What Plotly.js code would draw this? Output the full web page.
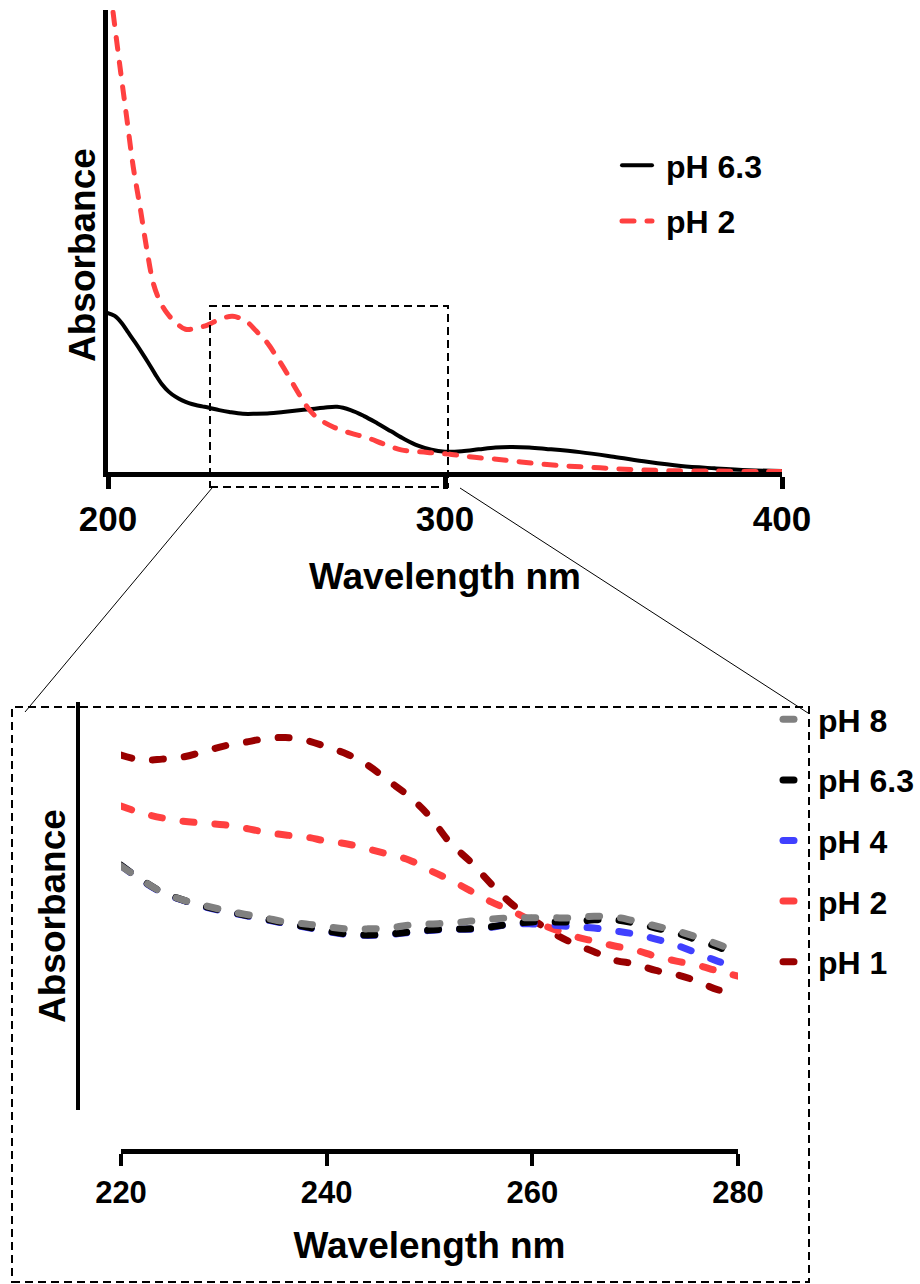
<!DOCTYPE html>
<html><head><meta charset="utf-8">
<script src="https://cdn.plot.ly/plotly-3.0.1.min.js"></script>
<style>
html,body{margin:0;padding:0;background:#fff;}
#chart{width:920px;height:1284px;}
.js-line{stroke-linecap:round;}
</style></head><body><div id="chart"></div>
<script>
// ---- Top panel data ----
const topWl63 = [200,202,204,206,208,210,212,214,216,218,220,222,224,226,228,230,233,236,240,244,248,252,256,260,264,268,272,276,280,284,288,292,296,300,305,310,315,320,325,330,340,350,360,370,380,390,400];
const topAbs63 = [0.344,0.338,0.323,0.302,0.281,0.259,0.236,0.212,0.190,0.174,0.163,0.155,0.149,0.145,0.142,0.139,0.134,0.130,0.126,0.126,0.127,0.130,0.133,0.136,0.139,0.141,0.134,0.121,0.105,0.088,0.071,0.057,0.048,0.044,0.045,0.049,0.053,0.054,0.053,0.050,0.043,0.033,0.022,0.013,0.008,0.004,0.002];
const topWl2 = [201.5,203.5,205.5,207.5,209.5,211.5,213.5,215.5,217.5,220,223,226,229.5,233,237,241,244,247,250,253,256,259,262,267,272,277,282,287,292,297,302,307,316,326,336,346,356,366,380,394,400];
const topAbs2 = [0.995,0.880,0.770,0.660,0.574,0.483,0.407,0.368,0.344,0.324,0.309,0.311,0.318,0.330,0.337,0.326,0.305,0.282,0.250,0.215,0.177,0.142,0.118,0.097,0.084,0.074,0.060,0.048,0.044,0.041,0.038,0.033,0.027,0.019,0.013,0.009,0.005,0.003,0.002,0.001,0.001];
const topTicks = [200,300,400];
const topNames = ['pH 6.3', 'pH 2'];

// ---- Inset data ----
const insetWl = [220,222,224,226,228,230,232,234,236,238,240,242,244,246,248,250,252,254,256,258,260,262,264,266,268,270,272,274,276,278,280];
const insetPh1 = [87.0,85.8,86.0,86.5,87.8,89.2,90.1,91.0,91.3,90.6,89.0,87.2,84.5,80.7,76.9,72.0,65.5,60.8,55.4,50.5,46.8,43.4,40.8,38.8,36.7,35.8,34.2,33.2,31.6,29.5,28.7];
const insetPh2 = [74.5,72.8,71.6,70.8,70.3,69.9,69.1,68.1,67.4,66.9,65.9,65.2,64.0,62.7,61.3,58.8,56.4,53.7,51.0,48.8,46.3,44.4,42.6,41.4,40.2,39.2,37.7,36.5,35.5,34.1,32.8];
const insetPh4 = [59.9,56.3,53.3,51.4,49.9,48.7,47.7,46.7,45.7,44.8,43.8,43.0,42.8,43.0,43.5,44.0,44.3,44.3,44.8,45.6,45.6,45.3,44.9,44.6,43.9,43.1,41.9,40.4,38.5,36.5,35.0];
const insetPh63 = [60.0,56.4,53.4,51.5,50.0,48.8,47.8,46.8,45.8,44.9,43.9,43.1,42.9,43.1,43.6,44.1,44.4,44.4,44.9,45.6,46.1,46.1,46.1,46.6,46.6,45.8,44.6,43.4,41.7,40.0,38.0];
const insetPh8 = [59.8,56.4,53.4,51.5,50.2,49.0,48.0,47.1,46.1,45.6,44.9,44.4,44.4,44.6,45.3,45.6,45.8,46.3,46.8,47.1,47.1,47.1,47.1,47.5,47.3,46.3,45.1,43.9,42.4,40.7,38.7];
const insetTicks = [220,240,260,280];

const W = 920, H = 1284;
const X = p => p / W;
const Y = p => 1 - p / H;
const FONT = 'Liberation Sans, Arial, Helvetica, sans-serif';
const f = (s) => ({family: FONT, size: s, color: '#000', weight: 700});
const pad = s => '\u00a0' + s;

const insetDash = '11px,21px';
const insetW = 7;

const traces = [
  {x: topWl63, y: topAbs63, name: pad(topNames[0]), type: 'scatter', mode: 'lines',
   line: {color: '#000000', width: 4, shape: 'spline'}, xaxis: 'x', yaxis: 'y', legend: 'legend', legendgroup: 'a', legendrank: 1},
  {x: topWl2, y: topAbs2, name: pad(topNames[1]), type: 'scatter', mode: 'lines',
   line: {color: '#ff4040', width: 5, dash: '12px,13px', shape: 'spline'}, xaxis: 'x', yaxis: 'y', legend: 'legend', legendgroup: 'b', legendrank: 2},

  {x: insetWl, y: insetPh1, name: 'pH 1', type: 'scatter', mode: 'lines',
   line: {color: '#990000', width: insetW, dash: insetDash, shape: 'spline'}, xaxis: 'x2', yaxis: 'y2', legend: 'legend2', legendgroup: 'g1', legendrank: 5},
  {x: insetWl, y: insetPh2, name: 'pH 2', type: 'scatter', mode: 'lines',
   line: {color: '#ff4040', width: insetW, dash: insetDash, shape: 'spline'}, xaxis: 'x2', yaxis: 'y2', legend: 'legend2', legendgroup: 'g2', legendrank: 4},
  {x: insetWl, y: insetPh4, name: 'pH 4', type: 'scatter', mode: 'lines',
   line: {color: '#4040ff', width: insetW, dash: insetDash, shape: 'spline'}, xaxis: 'x2', yaxis: 'y2', legend: 'legend2', legendgroup: 'g4', legendrank: 3},
  {x: insetWl, y: insetPh63, name: 'pH 6.3', type: 'scatter', mode: 'lines',
   line: {color: '#000000', width: insetW, dash: insetDash, shape: 'spline'}, xaxis: 'x2', yaxis: 'y2', legend: 'legend2', legendgroup: 'g63', legendrank: 2},
  {x: insetWl, y: insetPh8, name: 'pH 8', type: 'scatter', mode: 'lines',
   line: {color: '#808080', width: insetW, dash: insetDash, shape: 'spline'}, xaxis: 'x2', yaxis: 'y2', legend: 'legend2', legendgroup: 'g8', legendrank: 1}
];

const rectDash = '8px,5px';
const layout = {
  width: W, height: H,
  margin: {l: 0, r: 0, t: 0, b: 0},
  paper_bgcolor: '#fff', plot_bgcolor: 'rgba(0,0,0,0)',
  font: f(32),
  xaxis: {
    domain: [X(108), X(782)], range: [200, 400], anchor: 'y',
    showline: true, linewidth: 5, linecolor: '#000', mirror: false,
    ticks: 'outside', ticklen: 12, tickwidth: 5, tickcolor: '#000',
    tickmode: 'array', tickvals: topTicks, ticktext: topTicks.map(String),
    tickfont: f(35), showgrid: false, zeroline: false,
    title: {text: 'Wavelength nm', font: f(37), standoff: 28}
  },
  yaxis: {
    domain: [Y(472), Y(10)], range: [0, 1], anchor: 'x',
    showline: true, linewidth: 5, linecolor: '#000',
    ticks: '', showticklabels: false, showgrid: false, zeroline: false
  },
  xaxis2: {
    domain: [X(121), X(738)], range: [220, 280], anchor: 'free', position: Y(1151),
    showline: true, linewidth: 5, linecolor: '#000',
    ticks: 'outside', ticklen: 12, tickwidth: 4, tickcolor: '#000',
    tickmode: 'array', tickvals: insetTicks, ticktext: insetTicks.map(String),
    tickfont: f(31), showgrid: false, zeroline: false,
    title: {text: 'Wavelength nm', font: f(37), standoff: 22}
  },
  yaxis2: {
    domain: [Y(1110), Y(702)], range: [0, 100], anchor: 'free', position: X(78),
    showline: true, linewidth: 4, linecolor: '#000',
    ticks: '', showticklabels: false, showgrid: false, zeroline: false
  },
  annotations: [
    {text: 'Absorbance', xref: 'paper', yref: 'paper', x: X(82), y: Y(255), textangle: -90,
     showarrow: false, xanchor: 'center', yanchor: 'middle', font: f(37)},
    {text: 'Absorbance', xref: 'paper', yref: 'paper', x: X(52), y: Y(916), textangle: -90,
     showarrow: false, xanchor: 'center', yanchor: 'middle', font: f(37)}
  ],
  showlegend: true,
  legend: {
    x: X(617), y: Y(138), xanchor: 'left', yanchor: 'top',
    bgcolor: 'rgba(0,0,0,0)', borderwidth: 0, font: f(32),
    tracegroupgap: 11, itemwidth: 30, traceorder: 'grouped'
  },
  legend2: {
    x: X(778), y: Y(692), xanchor: 'left', yanchor: 'top',
    bgcolor: 'rgba(0,0,0,0)', borderwidth: 0, font: f(32),
    tracegroupgap: 16, itemwidth: 30, traceorder: 'grouped'
  },
  shapes: [
    {type: 'rect', xref: 'paper', yref: 'paper', x0: X(210), x1: X(448), y0: Y(487), y1: Y(306),
     line: {color: '#000', width: 2, dash: rectDash}},
    {type: 'rect', xref: 'paper', yref: 'paper', x0: X(12), x1: X(809), y0: Y(1282), y1: Y(707),
     line: {color: '#000', width: 2, dash: rectDash}},
    {type: 'line', xref: 'paper', yref: 'paper', x0: X(212), y0: Y(488), x1: X(25), y1: Y(712),
     line: {color: '#000', width: 1}},
    {type: 'line', xref: 'paper', yref: 'paper', x0: X(460), y0: Y(488), x1: X(808), y1: Y(713),
     line: {color: '#000', width: 1}}
  ]
};

Plotly.newPlot('chart', traces, layout, {displayModeBar: false, staticPlot: true});
</script></body></html>
